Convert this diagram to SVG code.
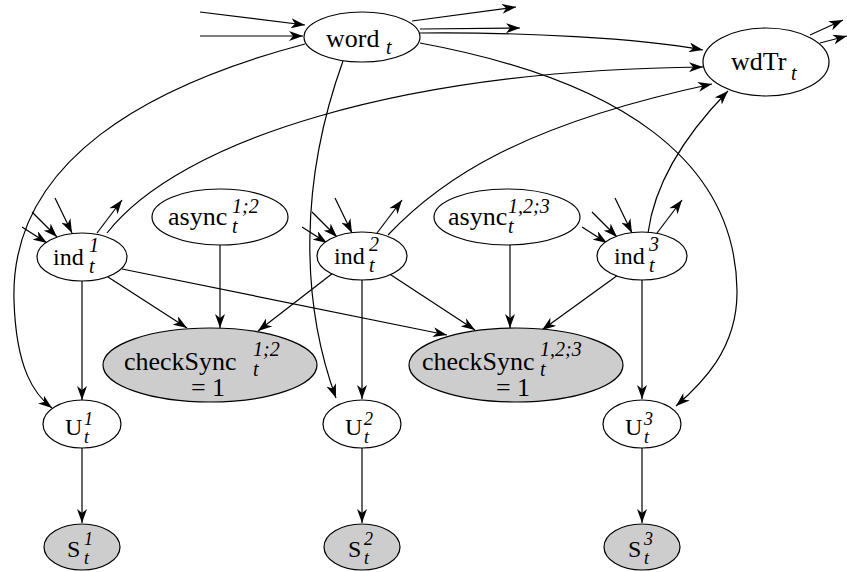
<svg xmlns="http://www.w3.org/2000/svg" width="847" height="572" viewBox="0 0 847 572">
<style>
.n { fill: #ffffff; stroke: #000; stroke-width: 1.2; }
.g { fill: #cdcdcd; stroke: #000; stroke-width: 1.2; }
.e { fill: none; stroke: #000; stroke-width: 1.2; marker-end: url(#ah); }
.m { font-family: "Liberation Serif", "Times New Roman", serif; font-size: 26px; fill: #000; }
.k { font-family: "Liberation Serif", "Times New Roman", serif; font-size: 24px; fill: #000; }
.s { font-family: "Liberation Serif", "Times New Roman", serif; font-style: italic; font-size: 20px; fill: #000; }
.r { font-family: "Liberation Serif", "Times New Roman", serif; font-style: italic; font-size: 18px; fill: #000; }
</style>
<defs>
<marker id="ah" viewBox="0 0 14 10" refX="14" refY="5" markerWidth="14" markerHeight="10" markerUnits="userSpaceOnUse" orient="auto">
<path d="M0,0 L14,5 L0,10 L4,5 z" fill="#000"/>
</marker>
</defs>

<g id="connectors">
<path class="e" d="M200,12 L305,25"/>
<path class="e" d="M200,36 L303,36"/>
<path class="e" d="M412,21 L516,7"/>
<path class="e" d="M420,29 L520,28"/>
<path class="e" d="M420,33 C520,32 640,38 703,50"/>
<path class="e" d="M305,44 C150,85 10,160 14,300 C16,370 35,395 52,408"/>
<path class="e" d="M343,61 C300,180 300,300 336,398"/>
<path class="e" d="M420,43 C620,80 735,160 737,290 C738,350 700,385 676,406"/>
<path class="e" d="M810,35 L843,20"/>
<path class="e" d="M820,43 L847,36"/>
<path class="e" d="M22,227 L47,243"/>
<path class="e" d="M32,212 L57,237"/>
<path class="e" d="M55,198 L72,233"/>
<path class="e" d="M97,233 L122,200"/>
<path class="e" d="M302,227 L327,243"/>
<path class="e" d="M312,212 L337,237"/>
<path class="e" d="M335,198 L352,233"/>
<path class="e" d="M377,233 L402,200"/>
<path class="e" d="M582,227 L607,243"/>
<path class="e" d="M592,212 L617,237"/>
<path class="e" d="M615,198 L632,233"/>
<path class="e" d="M657,233 L682,200"/>
<path class="e" d="M107,233 C180,140 400,70 703,67"/>
<path class="e" d="M388,235 C440,180 520,125 712,84"/>
<path class="e" d="M648,233 C655,180 690,130 728,91"/>
<path class="e" d="M108,277 L187,328"/>
<path class="e" d="M220,245 L220,328"/>
<path class="e" d="M333,273 L258,331"/>
<path class="e" d="M122,269 L447,335"/>
<path class="e" d="M388,273 L475,330"/>
<path class="e" d="M510,245 L510,328"/>
<path class="e" d="M618,275 L542,330"/>
<path class="e" d="M82,281 L82,400"/>
<path class="e" d="M362,280 L362,399"/>
<path class="e" d="M642,280 L642,399"/>
<path class="e" d="M82,448 L82,523"/>
<path class="e" d="M362,448 L362,523"/>
<path class="e" d="M642,448 L642,523"/>
</g>

<g id="word">
<ellipse class="n" cx="362" cy="37" rx="58" ry="25"/>
<text class="m" x="326" y="47">word</text>
<text class="s" x="386" y="54">t</text>
</g>
<g id="wdTr">
<ellipse class="n" cx="766" cy="62" rx="63" ry="34"/>
<text class="m" x="731" y="70">wdTr</text>
<text class="s" x="791" y="80">t</text>
</g>
<g id="ind1">
<ellipse class="n" cx="82" cy="257" rx="45" ry="24"/>
<text class="k" x="53" y="265">ind</text>
<text class="s" x="89" y="252">1</text>
<text class="s" x="89" y="273">t</text>
</g>
<g id="async12">
<ellipse class="n" cx="220" cy="217" rx="68" ry="28"/>
<text class="m" x="168" y="225">async</text>
<text class="s" x="232" y="213">1;2</text>
<text class="s" x="232" y="233">t</text>
</g>
<g id="ind2">
<ellipse class="n" cx="362" cy="256" rx="45" ry="24"/>
<text class="k" x="334" y="264">ind</text>
<text class="s" x="369" y="251">2</text>
<text class="s" x="369" y="272">t</text>
</g>
<g id="async123">
<ellipse class="n" cx="507" cy="217" rx="73" ry="28"/>
<text class="m" x="448" y="225">async</text>
<text class="s" x="508" y="213">1,2;3</text>
<text class="s" x="508" y="233">t</text>
</g>
<g id="ind3">
<ellipse class="n" cx="642" cy="256" rx="45" ry="24"/>
<text class="k" x="614" y="264">ind</text>
<text class="s" x="649" y="251">3</text>
<text class="s" x="649" y="272">t</text>
</g>
<g id="checkSync12">
<ellipse class="g" cx="210" cy="365" rx="107" ry="37"/>
<text class="m" x="124" y="370">checkSync</text>
<text class="s" x="253" y="356">1;2</text>
<text class="s" x="253" y="376">t</text>
<text class="m" x="208" y="396" text-anchor="middle">= 1</text>
</g>
<g id="checkSync123">
<ellipse class="g" cx="516" cy="365" rx="107" ry="37"/>
<text class="m" x="422" y="370">checkSync</text>
<text class="s" x="540" y="356">1,2;3</text>
<text class="s" x="540" y="376">t</text>
<text class="m" x="513" y="396" text-anchor="middle">= 1</text>
</g>
<g id="U1">
<ellipse class="n" cx="82" cy="424" rx="39" ry="24"/>
<text class="k" x="65" y="435">U</text>
<text class="r" x="84" y="425">1</text>
<text class="r" x="84" y="443">t</text>
</g>
<g id="U2">
<ellipse class="n" cx="362" cy="424" rx="39" ry="24"/>
<text class="k" x="345" y="435">U</text>
<text class="r" x="364" y="425">2</text>
<text class="r" x="364" y="443">t</text>
</g>
<g id="U3">
<ellipse class="n" cx="642" cy="424" rx="39" ry="24"/>
<text class="k" x="625" y="435">U</text>
<text class="r" x="644" y="425">3</text>
<text class="r" x="644" y="443">t</text>
</g>
<g id="S1">
<ellipse class="g" cx="82" cy="547" rx="38" ry="23"/>
<text class="k" x="67" y="557">S</text>
<text class="r" x="84" y="545">1</text>
<text class="r" x="84" y="564">t</text>
</g>
<g id="S2">
<ellipse class="g" cx="362" cy="547" rx="38" ry="23"/>
<text class="k" x="348" y="557">S</text>
<text class="r" x="364" y="545">2</text>
<text class="r" x="364" y="564">t</text>
</g>
<g id="S3">
<ellipse class="g" cx="642" cy="547" rx="38" ry="23"/>
<text class="k" x="628" y="557">S</text>
<text class="r" x="644" y="545">3</text>
<text class="r" x="644" y="564">t</text>
</g>
</svg>
